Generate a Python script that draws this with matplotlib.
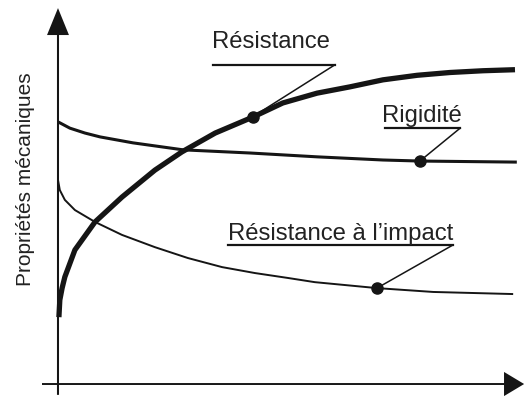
import matplotlib.pyplot as plt

plt.rcParams['font.family'] = ['Liberation Sans', 'DejaVu Sans']

# curves (x: 0..10 along the horizontal axis, y: 0..10 up)
resistance_x = [0.02, 0.04, 0.09, 0.15, 0.37, 0.81, 1.40, 2.12, 2.71, 3.44, 4.27,
                4.92, 5.67, 6.39, 7.11, 7.86, 8.58, 9.30, 10.0]
resistance_y = [1.91, 2.40, 2.74, 3.06, 3.83, 4.63, 5.34, 6.11, 6.63, 7.17, 7.63,
                8.03, 8.31, 8.49, 8.69, 8.82, 8.90, 8.95, 8.98]

rigidite_x = [0.0, 0.13, 0.26, 0.59, 0.92, 1.64, 2.74, 4.20, 5.67, 7.11, 7.92, 10.04]
rigidite_y = [7.49, 7.40, 7.31, 7.17, 7.06, 6.89, 6.69, 6.60, 6.49, 6.40, 6.37, 6.34]

impact_x = [0.0, 0.0, 0.04, 0.15, 0.37, 0.81, 1.40, 2.12, 2.84, 3.59, 4.31, 5.03,
            5.62, 6.98, 8.21, 9.96]
impact_y = [6.11, 5.83, 5.54, 5.26, 4.97, 4.63, 4.26, 3.91, 3.60, 3.34, 3.17, 3.03,
            2.91, 2.74, 2.63, 2.57]

# marked points on each curve
dot_x = [4.27, 7.92, 6.98]
dot_y = [7.63, 6.37, 2.74]
labels = ["Résistance", "Rigidité", "Résistance à l\u2019impact"]

ink = "#151515"
txt = "#222222"

fig = plt.figure(figsize=(5.25, 3.97), dpi=100)
ax = fig.add_axes([0, 0, 1, 1])
ax.set_xlim(-1.269, 10.219)
ax.set_ylim(-0.371, 10.971)
ax.axis('off')

# axes with arrow heads
ax.arrow(0, -0.31, 0, 11.05, width=0.045, head_width=0.48, head_length=0.77,
         length_includes_head=True, color=ink, lw=0)
ax.arrow(-0.35, 0, 10.55, 0, width=0.055, head_width=0.69, head_length=0.44,
         length_includes_head=True, color=ink, lw=0)

ax.plot(resistance_x, resistance_y, color=ink, lw=3.8, solid_joinstyle='round', solid_capstyle='butt')
ax.plot(rigidite_x, rigidite_y, color=ink, lw=2.2, solid_joinstyle='round', solid_capstyle='butt')
ax.plot(impact_x, impact_y, color=ink, lw=1.4, solid_joinstyle='round', solid_capstyle='butt')
ax.plot(dot_x, dot_y, 'o', color=ink, ms=8)

# labels: text anchor, underline and leader to the dot
text_pos = [(3.37, 9.60), (7.09, 7.49), (3.72, 4.11)]
underline = [((3.39, 6.06), 9.12), ((7.16, 8.80), 7.31), ((3.72, 8.64), 3.97)]
leader_end = [(4.4, 7.75), (7.92, 6.37), (6.98, 2.74)]
for i in range(3):
    ax.text(text_pos[i][0], text_pos[i][1], labels[i], fontsize=17.2, color=txt,
            ha='left', va='baseline')
    (x0, x1), yu = underline[i]
    ax.plot([x0, x1], [yu, yu], color=ink, lw=1.6)
    ax.plot([x1, leader_end[i][0]], [yu, leader_end[i][1]], color=ink, lw=1.1)

ax.text(-0.72, 5.86, "Propriétés mécaniques", rotation=90, fontsize=15,
        color=txt, ha='center', va='center')

fig.savefig("out.png", dpi=100)
